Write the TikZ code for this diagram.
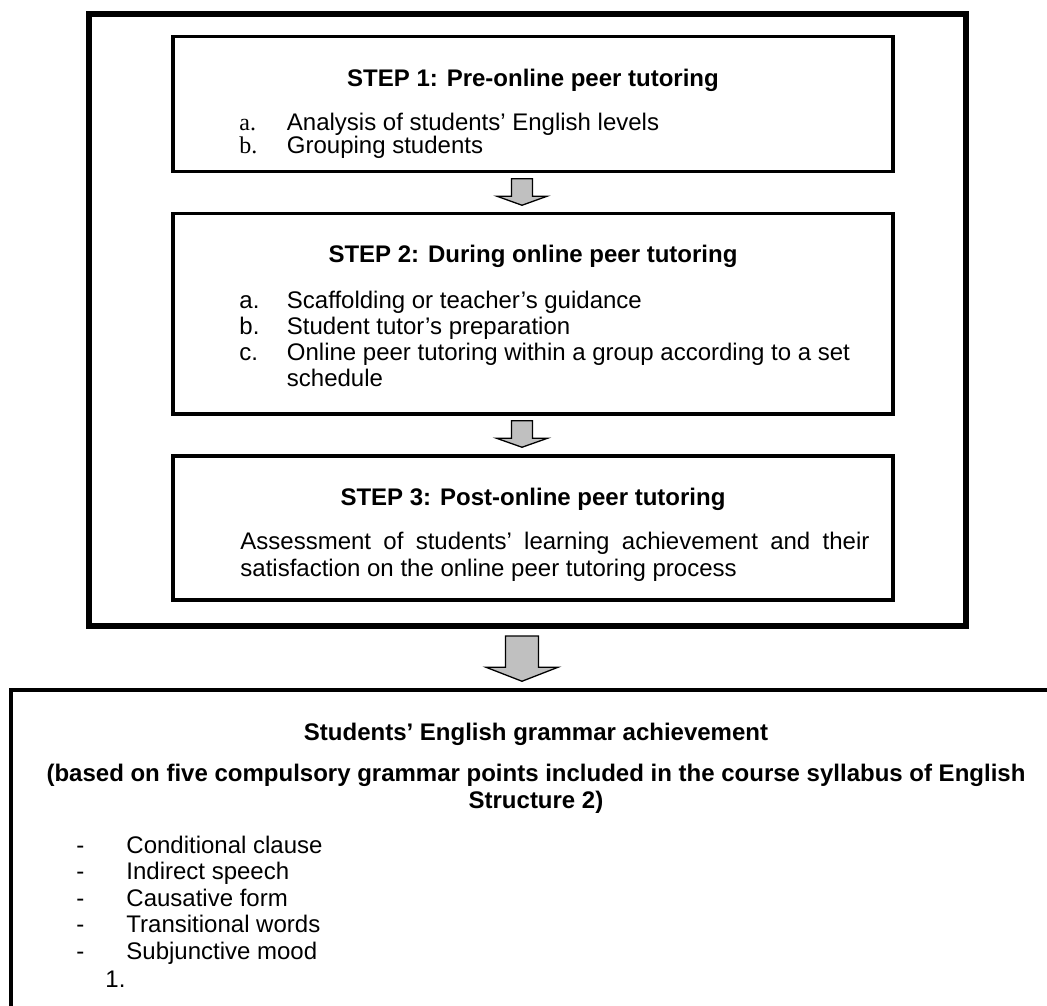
\documentclass[tikz,border=0pt]{standalone}
\usepackage{fontspec}
\setmainfont{Liberation Sans}
\newfontfamily\markfont{Liberation Serif}
\usetikzlibrary{calc}

\definecolor{arrowgray}{HTML}{C0C0C0}
\newcommand{\bodyfont}{\fontsize{24}{27}\selectfont}

% block arrow pointing down: top, tip, half shaft, half head, head length
\newcommand{\blockarrow}[5]{%
  \draw[arrowfill] ($(#1)+(-#3,0)$) -- ($(#2)+(-#3,-#5)$) -- ($(#2)+(-#4,-#5)$)
    -- (#2) -- ($(#2)+(#4,-#5)$) -- ($(#2)+(#3,-#5)$) -- ($(#1)+(#3,0)$) -- cycle;}

\begin{document}
\begin{tikzpicture}[x=1pt, y=-1pt, font=\bodyfont]

    \useasboundingbox (0,0) rectangle (1047,1006);
    \clip (0,0) rectangle (1047,1006);

    % --- Parameters ---
    \def\mx{68}        % marker offset from box edge
    \def\tx{115.5}     % text offset from box edge

    \coordinate (axis) at (522,0);

    % --- Styles ---
    \tikzstyle{outerbox} = [draw, line width=6pt, minimum width=877pt, inner sep=0pt]
    \tikzstyle{stepbox} = [draw, line width=3.5pt, minimum width=720pt, inner sep=0pt]
    \tikzstyle{steptitle} = [anchor=base, inner sep=0pt, font=\bodyfont\bfseries]
    \tikzstyle{itemtxt} = [anchor=base west, inner sep=0pt, font=\bodyfont]
    \tikzstyle{tightline} = [text height=17pt, text depth=4pt]
    \tikzstyle{arrowfill} = [fill=arrowgray, draw=black, line width=1.3pt, line join=miter]

    % --- Boxes ---
    \node[outerbox, minimum height=612pt] (frame) at (527.5,320) {};
    \node[stepbox, minimum height=135pt] (s1) at (533,104) {};
    \node[stepbox, minimum height=200.5pt] (s2) at (533,313.75) {};
    \node[stepbox, minimum height=144pt] (s3) at (533,528) {};
    \node[stepbox, minimum width=1050pt, minimum height=400pt] (result) at (536,890) {};

    % --- STEP 1 ---
    \node[steptitle] (t1) at ($(s1.north)+(0,52)$) {STEP 1: Pre-online peer tutoring};
    \begin{scope}
      \clip (s1.north west) rectangle ($(s1.south east)+(0,-14)$);
      \node[itemtxt, tightline, font=\bodyfont\markfont] (s1a) at ($(s1.north west)+(\mx,96)$) {a.};
      \node[itemtxt, tightline] (s1at) at ($(s1.north west)+(\tx,96)$) {Analysis of students’ English levels};
      \node[itemtxt, tightline, font=\bodyfont\markfont] (s1b) at ($(s1.north west)+(\mx,119)$) {b.};
      \node[itemtxt, tightline] (s1bt) at ($(s1.north west)+(\tx,119)$) {Grouping students};
    \end{scope}

    % --- STEP 2 ---
    \node[steptitle] (t2) at ($(s2.north)+(0,51)$) {STEP 2: During online peer tutoring};
    \foreach \lbl/\txt [count=\i] in {a./Scaffolding or teacher’s guidance,
        b./Student tutor’s preparation,
        c./Online peer tutoring within a group according to a set} {
      \node[itemtxt] (s2m\i) at ($(s2.north west)+(\mx,{96.5+26*(\i-1)})$) {\lbl};
      \node[itemtxt] (s2t\i) at ($(s2.north west)+(\tx,{96.5+26*(\i-1)})$) {\txt};
    }
    \node[itemtxt] (s2sched) at ($(s2.north west)+(\tx,174.5)$) {schedule};

    % --- STEP 3 ---
    \node[steptitle] (t3) at ($(s3.north)+(0,51)$) {STEP 3: Post-online peer tutoring};
    \node[itemtxt] (s3l1) at ($(s3.north west)+(69,95)$)
      {\makebox[629pt][s]{Assessment of students’ learning achievement and their}};
    \node[itemtxt] (s3l2) at ($(s3.north west)+(69,122)$) {satisfaction on the online peer tutoring process};

    % --- Result ---
    \node[steptitle] (r0) at ($(result.north)+(0,52)$) {Students’ English grammar achievement};
    \node[steptitle] (r1) at ($(result.north)+(0,93)$) {(based on five compulsory grammar points included in the course syllabus of English};
    \node[steptitle] (r2) at ($(result.north)+(0,120)$) {Structure 2)};
    \foreach \txt [count=\i] in {Conditional clause, Indirect speech, Causative form,
        Transitional words, Subjunctive mood} {
      \node[itemtxt] (rd\i) at ($(result.north west)+(67,{165+26.5*(\i-1)})$) {-};
      \node[itemtxt] (ri\i) at ($(result.north west)+(117,{165+26.5*(\i-1)})$) {\txt};
    }
    \node[itemtxt] (rnum) at ($(result.north west)+(96,299)$) {1.};

    % --- Arrows ---
    \blockarrow{$(s1.south -| axis)+(0,5.5)$}{$(s2.north -| axis)+(0,-6.5)$}{10.5}{25}{9}
    \blockarrow{$(s2.south -| axis)+(0,5)$}{$(s3.north -| axis)+(0,-7)$}{10.5}{25.5}{9}
    \blockarrow{$(frame.south -| axis)+(0,7)$}{$(result.north -| axis)+(0,-7)$}{16.5}{36}{14}

\end{tikzpicture}
\end{document}
